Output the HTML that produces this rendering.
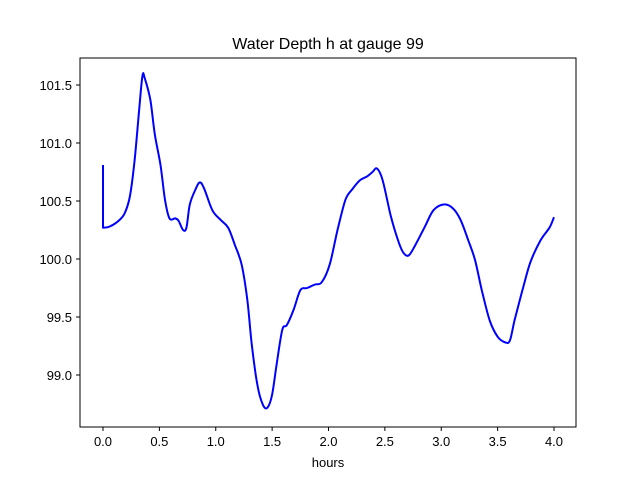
<!DOCTYPE html>
<html><head><meta charset="utf-8"><style>
body{margin:0;background:#fff;}
svg{display:block;font-family:"Liberation Sans","DejaVu Sans",sans-serif;}
</style></head><body>
<svg id="chart" width="640" height="480">
<rect x="0" y="0" width="640" height="480" fill="#fff"/>
<text x="328" y="49" font-size="16" text-anchor="middle">Water Depth h at gauge 99</text>
<g id="xticks"></g><g id="yticks"></g>
<path id="line" fill="none" stroke="#0000ff" stroke-width="2" stroke-linejoin="round"/>
<rect x="80" y="58" width="496" height="369" fill="none" stroke="#000" stroke-width="1"/>
<text x="328" y="467" font-size="13" text-anchor="middle">hours</text>
</svg>
<script>
const hours=[0,0,0.06,0.15,0.2,0.24,0.28,0.32,0.35,0.37,0.42,0.46,0.51,0.55,0.59,0.64,0.67,0.71,0.74,0.77,0.82,0.86,0.9,0.97,1.04,1.11,1.17,1.23,1.28,1.32,1.37,1.42,1.46,1.5,1.54,1.59,1.63,1.69,1.75,1.81,1.88,1.94,2.01,2.08,2.15,2.21,2.28,2.34,2.39,2.43,2.48,2.55,2.61,2.66,2.71,2.77,2.86,2.93,3.02,3.1,3.17,3.24,3.3,3.36,3.43,3.5,3.57,3.61,3.65,3.72,3.79,3.88,3.96,4.0];
const depth=[100.81,100.27,100.28,100.34,100.41,100.55,100.85,101.28,101.58,101.56,101.37,101.07,100.81,100.51,100.35,100.35,100.33,100.25,100.27,100.47,100.6,100.66,100.6,100.42,100.34,100.27,100.12,99.95,99.65,99.26,98.91,98.74,98.72,98.83,99.09,99.39,99.43,99.56,99.73,99.75,99.78,99.8,99.95,100.25,100.51,100.6,100.68,100.71,100.75,100.78,100.68,100.38,100.18,100.06,100.03,100.12,100.29,100.42,100.47,100.44,100.34,100.16,99.99,99.73,99.47,99.33,99.28,99.3,99.47,99.73,99.97,100.16,100.27,100.36];
const xTicks=["0.0","0.5","1.0","1.5","2.0","2.5","3.0","3.5","4.0"];
const yTicks=["99.0","99.5","100.0","100.5","101.0","101.5"];
const sx=v=>103+v*112.75;
const sy=v=>85+(101.5-v)*116;
const NS="http://www.w3.org/2000/svg";
const xg=document.getElementById('xticks'),yg=document.getElementById('yticks');
xTicks.forEach(t=>{const x=sx(parseFloat(t));
const l=document.createElementNS(NS,'line');l.setAttribute('x1',x);l.setAttribute('x2',x);l.setAttribute('y1',427);l.setAttribute('y2',431);l.setAttribute('stroke','#000');


xg.appendChild(l);
const s=document.createElementNS(NS,'text');s.setAttribute('x',x);s.setAttribute('y',446);s.setAttribute('font-size','13');s.setAttribute('text-anchor','middle');s.textContent=t;


xg.appendChild(s);});
yTicks.forEach(t=>{const y=sy(parseFloat(t));
const l=document.createElementNS(NS,'line');l.setAttribute('x1',76);l.setAttribute('x2',80);l.setAttribute('y1',y);l.setAttribute('y2',y);l.setAttribute('stroke','#000');


yg.appendChild(l);
const s=document.createElementNS(NS,'text');s.setAttribute('x',72);s.setAttribute('y',y+5);s.setAttribute('font-size','13');s.setAttribute('text-anchor','end');s.textContent=t;


yg.appendChild(s);});
const P=hours.map((h,i)=>[sx(h),sy(depth[i])]);
let d='M'+P[0][0].toFixed(1)+','+P[0][1].toFixed(1)+'L'+P[1][0].toFixed(1)+','+P[1][1].toFixed(1);
for(let i=1;i<P.length-1;i++){
 const p0=P[Math.max(i-1,1)],p1=P[i],p2=P[i+1],p3=P[Math.min(i+2,P.length-1)];
 const c1=[p1[0]+(p2[0]-p0[0])/6,p1[1]+(p2[1]-p0[1])/6];
 const c2=[p2[0]-(p3[0]-p1[0])/6,p2[1]-(p3[1]-p1[1])/6];
 d+='C'+c1[0].toFixed(1)+','+c1[1].toFixed(1)+' '+c2[0].toFixed(1)+','+c2[1].toFixed(1)+' '+p2[0].toFixed(1)+','+p2[1].toFixed(1);
}
document.getElementById('line').setAttribute('d',d);
</script>
</body></html>
